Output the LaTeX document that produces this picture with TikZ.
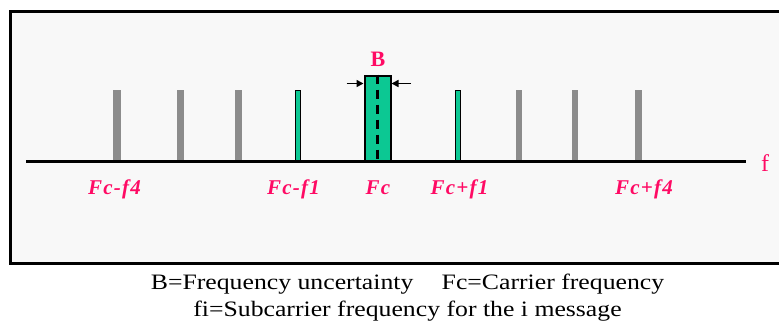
\documentclass[tikz,border=0pt]{standalone}
\usepackage{fontspec}
\setmainfont{Liberation Serif}
\newfontfamily\tnr{Liberation Serif}
\usetikzlibrary{arrows.meta}
\definecolor{mag}{HTML}{FF0A64}
\definecolor{grn}{HTML}{0CC893}
\definecolor{bar}{HTML}{8C8C8C}
\definecolor{bg}{HTML}{F8F8F8}
\tikzset{
  flabel/.style={text=mag,font=\tnr\fontsize{21}{24}\selectfont\bfseries\itshape\addfontfeature{LetterSpace=6},inner sep=0pt,anchor=base},
  thinbar/.style={fill=grn,draw=black,line width=1pt},
  captext/.style={font=\tnr\fontsize{22}{27}\selectfont,inner sep=0pt,anchor=base,align=center},
  barrow/.style={-{Triangle[length=7pt,width=7pt]},line width=1.6pt}
}
\begin{document}
\begin{tikzpicture}[x=1pt,y=-1pt]
\useasboundingbox (0,0) rectangle (779,322);
\fill[white] (0,0) rectangle (779,322);
\fill[bg] (10.7,11.7) rectangle (790,263.5);
\draw[line width=3pt] (790,11.7) -- (10.7,11.7) -- (10.7,263.5) -- (790,263.5);
% gray bars
\foreach \x/\w in {116.5/8,180.3/7.3,238.5/6.5,519/6.6,574.7/6,638.8/7}{
  \fill[bar] ({\x-\w/2},90) rectangle ({\x+\w/2},161);
}
% thin green bars
\draw[thinbar] (295.5,90.5) rectangle (300,161);
\draw[thinbar] (455.5,90.5) rectangle (460,161);
% central box
\node[draw=black,fill=grn,line width=2pt,minimum width=26pt,minimum height=86pt,inner sep=0pt,anchor=north] (box) at (377.5,74.5) {};
\draw[line width=3pt,dash pattern=on 9pt off 6pt,dash phase=0pt] (box.north) -- (box.south);
% axis
\coordinate (ax0) at (26,161);
\coordinate (ax1) at (746,161);
\draw[line width=3pt] (ax0) -- (ax1);
\node[text=mag,font=\tnr\fontsize{24}{27}\selectfont,inner sep=0pt,anchor=base] (f) at (765,171.5) {f};
% B label and arrows
\node[text=mag,font=\tnr\fontsize{22}{26}\selectfont\bfseries,inner sep=0pt,anchor=base] (B) at (378,66.5) {B};
\coordinate (la) at (346.5,83.5);
\coordinate (ra) at (411,83.5);
\draw[barrow] (la) -- (box.west |- la);
\draw[barrow] (ra) -- (box.east |- ra);
% labels
\node[flabel] (l1) at (114.5,194) {Fc-f4};
\node[flabel] (l2) at (293.5,194) {Fc-f1};
\node[flabel] (l3) at (378,194) {Fc};
\node[flabel] (l4) at (459.5,194) {Fc+f1};
\node[flabel] (l5) at (644,194) {Fc+f4};
% caption
\node[captext] (c1) at (407.5,289.3) {\scalebox{1.17}[1]{B=Frequency uncertainty\hspace{1.1em}Fc=Carrier frequency}};
\node[captext] (c2) at (407.5,316.5) {\scalebox{1.17}[1]{fi=Subcarrier frequency for the i message}};
\end{tikzpicture}
\end{document}
